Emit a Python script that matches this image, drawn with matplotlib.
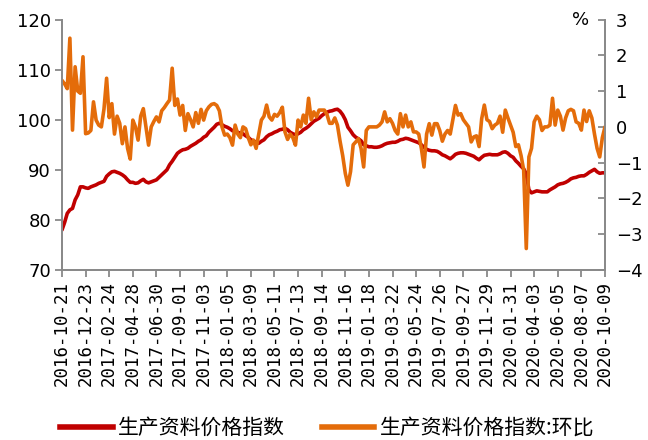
import matplotlib
matplotlib.use("Agg")
import matplotlib.pyplot as plt
import pandas as pd
from matplotlib.lines import Line2D

plt.rcParams['font.family'] = ['Noto Sans CJK SC', 'DejaVu Sans']

dates = pd.date_range('2016-10-21', periods=208, freq='7D')

index_values = [
    78.0, 79.5, 81.3, 82.0, 82.3, 84.0, 85.0, 86.6, 86.6, 86.4,
    86.3, 86.6, 86.8, 87.0, 87.3, 87.5, 87.7, 88.7, 89.2, 89.6,
    89.7, 89.5, 89.3, 89.0, 88.6, 88.0, 87.5, 87.5, 87.3, 87.4,
    87.8, 88.1, 87.6, 87.4, 87.6, 87.8, 88.0, 88.5, 89.0, 89.5,
    90.0, 91.0, 91.7, 92.5, 93.3, 93.7, 94.0, 94.1, 94.3, 94.7,
    95.0, 95.3, 95.7, 96.0, 96.5, 96.8, 97.5, 98.0, 98.5, 99.1,
    99.3, 99.0, 98.7, 98.5, 98.2, 97.8, 97.7, 97.5, 97.3, 97.2,
    96.8, 96.5, 96.0, 95.8, 95.5, 95.3, 95.7, 96.0, 96.6, 97.0,
    97.2, 97.5, 97.7, 98.0, 98.1, 98.3, 98.0, 97.5, 97.2, 97.0,
    97.2, 97.5, 98.0, 98.3, 98.7, 99.2, 99.7, 100.0, 100.3, 100.8,
    101.2, 101.5, 101.7, 101.8, 102.0, 102.1, 101.7, 101.0, 100.0, 98.5,
    97.8, 97.0, 96.5, 96.2, 95.8, 95.0, 94.8, 94.6, 94.6, 94.5,
    94.5, 94.6, 94.8, 95.1, 95.3, 95.4, 95.5, 95.5, 95.7, 96.0,
    96.1, 96.3, 96.2, 96.0, 95.8, 95.6, 95.4, 95.0, 94.5, 94.1,
    93.9, 93.8, 93.8, 93.7, 93.4, 93.0, 92.8, 92.5, 92.2, 92.6,
    93.1, 93.3, 93.4, 93.4, 93.3, 93.1, 92.9, 92.7, 92.3, 92.0,
    92.5, 92.9, 93.0, 93.1, 93.0, 93.0, 93.0, 93.2, 93.5, 93.6,
    93.3, 92.8, 92.5, 91.8, 91.3, 90.7, 90.2, 89.2, 86.0, 85.4,
    85.6, 85.8, 85.7, 85.6, 85.6, 85.6, 86.0, 86.3, 86.6, 87.0,
    87.2, 87.3, 87.5, 87.8, 88.2, 88.4, 88.5, 88.7, 88.8, 88.8,
    89.1, 89.5, 89.8, 90.1, 89.6, 89.3, 89.4, 89.4,
]

wow_values = [
    1.30, 1.20, 1.07, 2.48, -0.09, 1.68, 1.00, 0.94, 1.96, -0.19,
    -0.17, -0.10, 0.70, 0.19, 0.05, 0.00, 0.50, 1.36, 0.26, 0.65,
    -0.20, 0.30, 0.10, -0.47, 0.00, -0.60, -0.90, 0.19, 0.00, -0.37,
    0.30, 0.51, 0.00, -0.51, 0.00, 0.15, 0.28, 0.14, 0.45, 0.54,
    0.65, 0.75, 1.64, 0.60, 0.78, 0.33, 0.60, -0.10, 0.37, 0.20,
    0.00, 0.40, 0.10, 0.49, 0.19, 0.45, 0.56, 0.63, 0.65, 0.60,
    0.45, 0.00, -0.23, -0.20, -0.30, -0.51, 0.05, -0.20, -0.30, 0.00,
    -0.05, -0.30, -0.50, -0.37, -0.60, -0.20, 0.19, 0.30, 0.61, 0.28,
    0.19, 0.35, 0.30, 0.40, 0.55, -0.14, -0.35, -0.20, -0.30, -0.51,
    0.19, 0.00, 0.33, 0.10, 0.80, 0.20, 0.42, 0.28, 0.47, 0.47,
    0.47, 0.35, 0.10, 0.10, 0.25, 0.05, -0.40, -0.80, -1.30, -1.63,
    -1.25, -0.50, -0.42, -0.33, -0.60, -1.12, -0.10, 0.00, 0.00, 0.00,
    0.00, 0.05, 0.14, 0.42, 0.14, 0.23, 0.10, -0.10, -0.20, 0.37,
    0.00, 0.33, 0.00, 0.14, -0.14, -0.14, -0.20, -0.60, -1.12, -0.20,
    0.09, -0.23, 0.09, 0.09, -0.10, -0.40, -0.20, -0.10, -0.20, 0.20,
    0.60, 0.33, 0.37, 0.20, 0.10, 0.00, -0.42, -0.28, -0.25, -0.55,
    0.23, 0.61, 0.20, 0.15, -0.05, 0.05, 0.10, 0.30, -0.15, 0.47,
    0.25, 0.05, -0.15, -0.55, -0.50, -0.80, -1.20, -3.40, -0.84, -0.60,
    0.14, 0.30, 0.20, -0.10, 0.00, 0.00, 0.05, 0.80, 0.05, 0.47,
    0.30, -0.09, 0.25, 0.45, 0.49, 0.45, 0.14, 0.10, -0.09, 0.47,
    0.15, 0.45, 0.25, -0.20, -0.60, -0.84, -0.30, 0.00,
]

tick_labels = [
    '2016-10-21', '2016-12-23', '2017-02-24', '2017-04-28', '2017-06-30',
    '2017-09-01', '2017-11-03', '2018-01-05', '2018-03-09', '2018-05-11',
    '2018-07-13', '2018-09-14', '2018-11-16', '2019-01-18', '2019-03-22',
    '2019-05-24', '2019-07-26', '2019-09-27', '2019-11-29', '2020-01-31',
    '2020-04-03', '2020-06-05', '2020-08-07', '2020-10-09',
]

series_names = ['生产资料价格指数', '生产资料价格指数:环比']
left_ticks = [70, 80, 90, 100, 110, 120]
right_ticks = [-4, -3, -2, -1, 0, 1, 2, 3]

RED = '#C00000'
ORANGE = '#E46C0A'
GREY = '#898989'

fig = plt.figure(figsize=(6.48, 4.40), dpi=100)
ax = fig.add_axes([0.0957, 0.3864, 0.9336 - 0.0957, 0.9555 - 0.3864])
ax2 = ax.twinx()

x = list(range(len(dates)))
ax.plot(x, index_values, color=RED, lw=2.6, solid_capstyle='round', solid_joinstyle='round')
ax2.plot(x, wow_values, color=ORANGE, lw=2.6, solid_capstyle='round', solid_joinstyle='round')

ax.set_xlim(0, len(dates) - 1)
ax.set_ylim(70, 120)
ax2.set_ylim(-4, 3)
ax.set_yticks(left_ticks)
ax2.set_yticks(right_ticks)

tick_pos = [dates.get_loc(pd.Timestamp(t)) for t in tick_labels]
ax.set_xticks(tick_pos)
ax.set_xticklabels(tick_labels, rotation=90, family='DejaVu Sans Mono', fontsize=12.5)

for a in (ax, ax2):
    a.spines['top'].set_visible(False)
    for s in ('left', 'right', 'bottom'):
        a.spines[s].set_color(GREY)
        a.spines[s].set_linewidth(1.3)
ax.tick_params(axis='y', which='both', direction='out', length=5, width=1.3,
               color=GREY, labelsize=13, pad=3)
ax.tick_params(axis='x', direction='out', length=5, width=1.3, color=GREY, pad=3)
ax2.tick_params(axis='y', direction='in', length=5, width=1.3, color=GREY,
                labelsize=13, pad=8)
for lbl in ax.get_yticklabels() + ax2.get_yticklabels():
    lbl.set_family('DejaVu Sans')

ax2.text(0.955, 1.0, '%', transform=ax2.transAxes, ha='center', va='center',
         fontsize=13, family='DejaVu Sans')

handles = [Line2D([], [], color=RED, lw=4), Line2D([], [], color=ORANGE, lw=4)]
fig.legend(handles, series_names, loc='center', bbox_to_anchor=(0.505, 0.027),
           ncol=2, frameon=False, fontsize=15, handlelength=2.5, handletextpad=0.25,
           columnspacing=1.8, borderpad=0.1)

fig.savefig('out.png', dpi=100)
